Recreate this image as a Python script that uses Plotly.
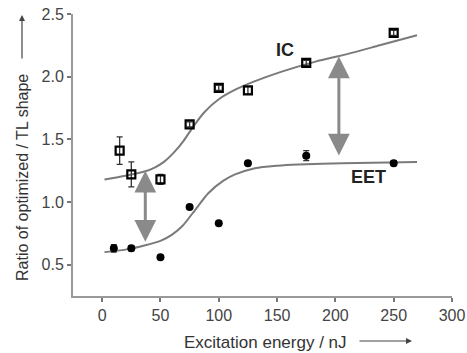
import plotly.graph_objects as go

# Measured ratios (open squares: IC, filled circles: EET)
ic_energy = [15, 25, 50, 75, 100, 125, 175, 250]
ic_ratio = [1.41, 1.22, 1.18, 1.62, 1.91, 1.89, 2.11, 2.35]
ic_err = [0.11, 0.10, 0.04, 0.02, 0.02, 0.03, 0.02, 0.02]

eet_energy = [10, 25, 50, 75, 100, 125, 175, 250]
eet_ratio = [0.63, 0.63, 0.56, 0.96, 0.83, 1.31, 1.37, 1.31]
eet_err = [0.03, 0.02, 0.0, 0.0, 0.0, 0.0, 0.04, 0.02]

# Fitted trend curves
ic_fit_x = [2, 20, 37, 45, 53, 62, 70, 78, 88, 100, 115, 130, 154, 183, 210, 238, 270]
ic_fit_y = [1.18, 1.21, 1.245, 1.275, 1.32, 1.40, 1.49, 1.60, 1.72, 1.82, 1.90, 1.96, 2.04, 2.12, 2.18, 2.25, 2.33]
eet_fit_x = [2, 20, 37, 50, 60, 69, 80, 91, 104, 114, 131, 150, 168, 206, 270]
eet_fit_y = [0.60, 0.62, 0.655, 0.69, 0.74, 0.81, 0.94, 1.07, 1.17, 1.22, 1.27, 1.29, 1.30, 1.31, 1.32]

# Double-headed gap arrows: (energy, top ratio, bottom ratio)
gap_arrows = [(37, 1.25, 0.67), (203, 2.16, 1.36)]

x_ticks = [0, 50, 100, 150, 200, 250, 300]
y_ticks = [0.5, 1.0, 1.5, 2.0, 2.5]

FONT = "Liberation Sans, Arial, sans-serif"
GREY = "#8a8a8a"
CURVE = "#7a7a7a"

fig = go.Figure()

for fx, fy in [(ic_fit_x, ic_fit_y), (eet_fit_x, eet_fit_y)]:
    fig.add_trace(go.Scatter(x=fx, y=fy, mode="lines",
                             line=dict(color=CURVE, width=2, shape="spline", smoothing=0.7),
                             hoverinfo="skip"))

fig.add_trace(go.Scatter(
    x=ic_energy, y=ic_ratio, mode="markers",
    marker=dict(symbol="square-open", size=8, color="black", line=dict(width=2.2, color="black")),
    error_y=dict(type="data", array=ic_err, color="#333", thickness=1.3, width=3),
))
fig.add_trace(go.Scatter(
    x=eet_energy, y=eet_ratio, mode="markers",
    marker=dict(symbol="circle", size=8, color="black"),
    error_y=dict(type="data", array=eet_err, color="#333", thickness=1.3, width=3),
))

annotations = []
for ex, top, bottom in gap_arrows:
    annotations.append(dict(
        x=ex, y=top, ax=ex, ay=bottom, xref="x", yref="y", axref="x", ayref="y",
        text="", showarrow=True, arrowhead=2, startarrowhead=2, arrowside="end+start",
        arrowsize=1.45, startarrowsize=1.45, arrowwidth=3, arrowcolor=GREY,
        standoff=0, startstandoff=0,
    ))

# plot area in pixels: x 73..452, y 14..296
def px(x):
    return (x - 73) / 379.0

def py(y):
    return (296 - y) / 282.0

annotations += [
    dict(x=157, y=2.216, xref="x", yref="y", text="<b>IC</b>", showarrow=False,
         font=dict(family=FONT, size=18, color="#222")),
    dict(x=228, y=1.2, xref="x", yref="y", text="<b>EET</b>", showarrow=False,
         font=dict(family=FONT, size=18, color="#222")),
    # axis titles with direction arrows
    dict(x=px(22), y=py(178), xref="paper", yref="paper", xanchor="center", yanchor="middle",
         text="Ratio of optimized / TL shape",
         textangle=-90, showarrow=False, font=dict(family=FONT, size=16, color="#333")),
    dict(x=px(22), y=py(15), xref="paper", yref="paper", text="", showarrow=True,
         ax=0, ay=45, arrowhead=2, arrowsize=1, arrowwidth=1.2, arrowcolor="#444"),
    dict(x=px(265), y=py(342), xref="paper", yref="paper", xanchor="center", yanchor="middle",
         text="Excitation energy / nJ",
         showarrow=False, font=dict(family=FONT, size=17, color="#333")),
    dict(x=px(412), y=py(341), xref="paper", yref="paper", text="", showarrow=True,
         ax=-54, ay=0, arrowhead=2, arrowsize=1, arrowwidth=1.2, arrowcolor="#444"),
]

axis_common = dict(
    showgrid=False, zeroline=False, showline=True, linecolor="#999", linewidth=2,
    ticks="outside", ticklen=4, tickwidth=1.5, tickcolor="#777", automargin=False,
    tickfont=dict(family=FONT, size=16, color="#444"),
)

fig.update_layout(
    width=467, height=353,
    margin=dict(l=73, r=15, t=14, b=57, autoexpand=False),
    paper_bgcolor="white", plot_bgcolor="white",
    showlegend=False,
    xaxis=dict(range=[-25, 300], tickvals=x_ticks, ticktext=[str(v) for v in x_ticks], **axis_common),
    yaxis=dict(range=[0.25, 2.5], tickvals=y_ticks, ticktext=[f"{v:.1f}" for v in y_ticks], **axis_common),
    annotations=annotations,
)

fig.write_html("out.html")
